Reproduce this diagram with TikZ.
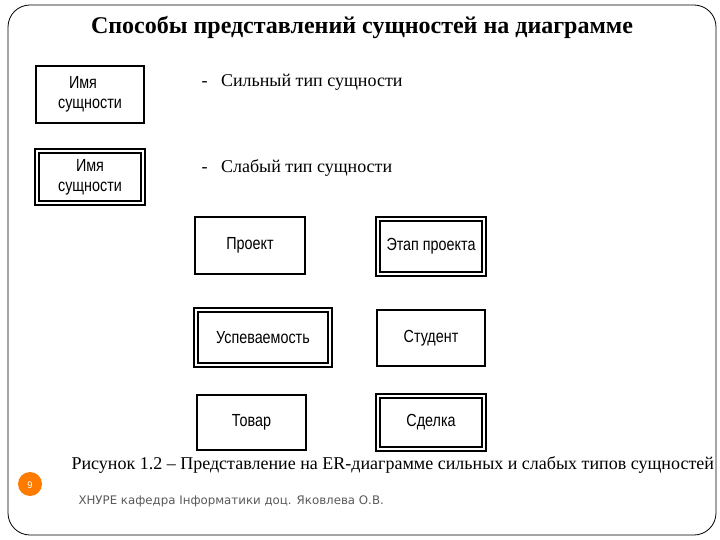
\documentclass[tikz,border=0pt]{standalone}
\usepackage{fontspec}
\setmainfont{Liberation Serif}
\newfontfamily\narrow[FakeStretch=0.82]{Liberation Sans}
\newfontfamily\footf{DejaVu Sans}
\begin{document}
\begin{tikzpicture}[x=1pt,y=-1pt,
  ent/.style={draw,line width=1.8pt,inner sep=0pt,font=\narrow\fontsize{17.5}{20}\selectfont,align=center},
  weak/.style={ent,double=white,double distance=2.2pt,line width=1.8pt},
  lbl/.style={anchor=west,font=\fontsize{18}{20}\selectfont}]
\useasboundingbox (0,0) rectangle (720,540);
\draw[line width=0.8pt,rounded corners=22pt] (8,5) rectangle (716,535);
\node[font=\bfseries\fontsize{24}{26}\selectfont] (title) at (362,28) {Способы представлений сущностей на диаграмме};
\node[ent,minimum width=108pt,minimum height=57pt] (s1) at (90,94.5) {\hspace*{-14pt}Имя\\сущности};
\node[weak,minimum width=106pt,minimum height=52pt] (w1) at (90,177) {Имя\\сущности};
\node[lbl] (l1) at (198,82) {-\ \ \ Сильный тип сущности};
\node[lbl] (l2) at (198,168) {-\ \ \ Слабый тип сущности};
\node[ent,minimum width=110pt,minimum height=57pt] (p) at (250,245.5) {Проект};
\node[weak,minimum width=106pt,minimum height=55pt] (e) at (431,246.5) {Этап проекта};
\node[weak,minimum width=134pt,minimum height=55pt] (u) at (263,337.5) {Успеваемость};
\node[ent,minimum width=108pt,minimum height=56pt] (st) at (431,338) {Студент};
\node[ent,minimum width=109pt,minimum height=55pt] (t) at (251.5,422.5) {Товар};
\node[weak,minimum width=106pt,minimum height=53pt] (sd) at (431,422.5) {Сделка};
\node[anchor=west,font=\fontsize{18}{20}\selectfont] (cap) at (68,465) {Рисунок 1.2 – Представление на ER-диаграмме сильных и слабых типов сущностей};
\fill[orange!85!red!90!yellow] (30,484) circle (12pt);
\node[font=\footf\fontsize{9}{10}\selectfont,text=white] (n) at (30,485) {9};
\node[anchor=west,font=\footf\fontsize{11.8}{13}\selectfont,text=black!65] (f) at (75,501) {ХНУРЕ кафедра Інформатики доц. Яковлева О.В.};
\end{tikzpicture}
\end{document}
